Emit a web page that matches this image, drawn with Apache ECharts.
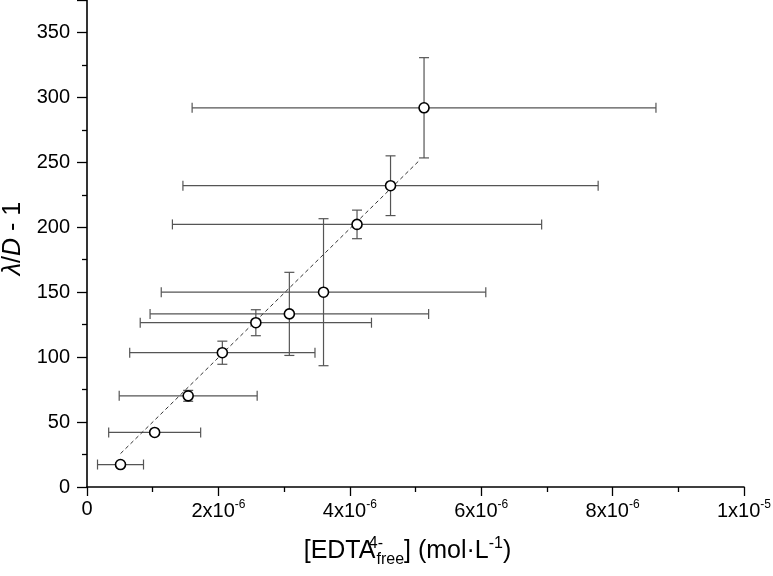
<!DOCTYPE html>
<html>
<head>
<meta charset="utf-8">
<script src="https://cdn.jsdelivr.net/npm/echarts@6/dist/echarts.min.js"></script>
<style>
  html, body { margin: 0; padding: 0; background: #fff; }
  #chart { width: 773px; height: 576px; }
</style>
</head>
<body>
<div id="chart"></div>
<script>
// ---- data ----
const xValues   = [0.51e-6, 1.03e-6, 1.54e-6, 2.06e-6, 2.57e-6, 3.08e-6, 3.60e-6, 4.11e-6, 4.62e-6, 5.13e-6];
const yValues   = [17.3, 42, 70.2, 103.4, 126.5, 133.3, 150, 202.2, 232, 292];
const xErrors   = [0.35e-6, 0.70e-6, 1.05e-6, 1.41e-6, 1.76e-6, 2.12e-6, 2.47e-6, 2.81e-6, 3.16e-6, 3.53e-6];
const yErrors   = [1.5, 1.5, 4.2, 8.9, 10, 32, 56.6, 11, 23, 38.6];
const fitX      = [0.51e-6, 5.07e-6];
const fitY      = [25.7, 252];
const xTickValues = [0, 2e-6, 4e-6, 6e-6, 8e-6, 1e-5];
const xTickLabels = ['0', '2x10{s|-6}', '4x10{s|-6}', '6x10{s|-6}', '8x10{s|-6}', '1x10{s|-5}'];
const yTickValues = [0, 50, 100, 150, 200, 250, 300, 350];

const FONT = "'Liberation Sans', Arial, sans-serif";

const errData = xValues.map((x, i) => [x, yValues[i], x - xErrors[i], x + xErrors[i], yValues[i] - yErrors[i], yValues[i] + yErrors[i]]);
const pts = xValues.map((x, i) => [x, yValues[i]]);
const fit = fitX.map((x, i) => [x, fitY[i]]);

const chart = echarts.init(document.getElementById('chart'), null, { renderer: 'canvas' });

function renderErr(params, api) {
  const x = api.value(0), y = api.value(1);
  const c = api.coord([x, y]);
  const xl = api.coord([api.value(2), y]);
  const xh = api.coord([api.value(3), y]);
  const yl = api.coord([x, api.value(4)]);
  const yh = api.coord([x, api.value(5)]);
  const cap = 5;
  const style = { stroke: '#555', lineWidth: 1.2, fill: null };
  const line = (x1, y1, x2, y2) => ({ type: 'line', shape: { x1, y1, x2, y2 }, style });
  return {
    type: 'group',
    children: [
      line(xl[0], c[1], xh[0], c[1]),
      line(xl[0], c[1] - cap, xl[0], c[1] + cap),
      line(xh[0], c[1] - cap, xh[0], c[1] + cap),
      line(c[0], yl[1], c[0], yh[1]),
      line(c[0] - cap, yl[1], c[0] + cap, yl[1]),
      line(c[0] - cap, yh[1], c[0] + cap, yh[1])
    ]
  };
}

const option = {
  animation: false,
  backgroundColor: '#fff',
  grid: { left: 87, right: 29, top: 0, bottom: 89, containLabel: false, outerBoundsMode: 'none' },
  xAxis: {
    type: 'value',
    min: 0, max: 1e-5, interval: 2e-6,
    axisLine: { show: true, onZero: false, lineStyle: { color: '#000', width: 1.6 } },
    axisTick: { show: true, inside: false, length: 9, lineStyle: { color: '#000', width: 1.3 } },
    minorTick: { show: true, splitNumber: 2, length: 5, lineStyle: { color: '#000', width: 1.3 } },
    splitLine: { show: false },
    axisLabel: {
      margin: 12,
      fontFamily: FONT, fontSize: 20, color: '#000',
      formatter: function (v) {
        const i = xTickValues.findIndex(t => Math.abs(t - v) < 1e-9);
        return i >= 0 ? xTickLabels[i] : '';
      },
      rich: {
        s: { fontFamily: FONT, fontSize: 12, color: '#000', padding: [0, 0, 13, 0] }
      }
    },
    name: '{n|[EDTA}{sup|4-}{sub|free}{n|] (mol·L}{s2|-1}{n|)}',
    nameLocation: 'middle',
    nameGap: 48,
    nameTextStyle: {
      fontFamily: FONT, fontSize: 25, color: '#000',
      padding: [0, 16, 0, 0],
      rich: {
        n: { fontFamily: FONT, fontSize: 25, color: '#000' },
        sup: { fontFamily: FONT, fontSize: 16, color: '#000', width: 1, padding: [0, 0, 15, 0] },
        sub: { fontFamily: FONT, fontSize: 16, color: '#000', padding: [17, 0, 0, 0] },
        s2: { fontFamily: FONT, fontSize: 16, color: '#000', padding: [0, 0, 15, 0] }
      }
    }
  },
  yAxis: {
    type: 'value',
    min: 0, max: 375, interval: 50,
    axisLine: { show: true, onZero: false, lineStyle: { color: '#000', width: 1.6 } },
    axisTick: { show: true, inside: false, length: 10, lineStyle: { color: '#000', width: 1.3 } },
    minorTick: { show: true, splitNumber: 2, length: 5, lineStyle: { color: '#000', width: 1.3 } },
    splitLine: { show: false },
    axisLabel: {
      margin: 17,
      fontFamily: FONT, fontSize: 20, color: '#000',
      showMaxLabel: false,
      formatter: function (v) {
        return yTickValues.indexOf(v) >= 0 ? String(v) : '';
      }
    },
    name: '{i|λ}{n|/}{i|D}{n| - 1}',
    nameLocation: 'middle',
    nameGap: 45,
    nameRotate: 90,
    nameTextStyle: {
      fontFamily: FONT, fontSize: 25, color: '#000',
      padding: [0, 0, 0, 10],
      rich: {
        i: { fontFamily: FONT, fontSize: 25, fontStyle: 'italic', color: '#000' },
        n: { fontFamily: FONT, fontSize: 25, color: '#000' }
      }
    }
  },
  series: [
    {
      type: 'custom',
      renderItem: renderErr,
      data: errData,
      encode: { x: [0, 2, 3], y: [1, 4, 5] },
      z: 2,
      silent: true
    },
    {
      type: 'line',
      data: fit,
      showSymbol: false,
      symbol: 'none',
      lineStyle: { color: '#333', width: 1, type: [4, 3] },
      z: 3,
      silent: true
    },
    {
      type: 'scatter',
      data: pts,
      symbol: 'circle',
      symbolSize: 10,
      itemStyle: { color: '#fff', borderColor: '#000', borderWidth: 1.6, opacity: 1 },
      z: 5,
      silent: true
    }
  ]
};
chart.setOption(option);
</script>
</body>
</html>
